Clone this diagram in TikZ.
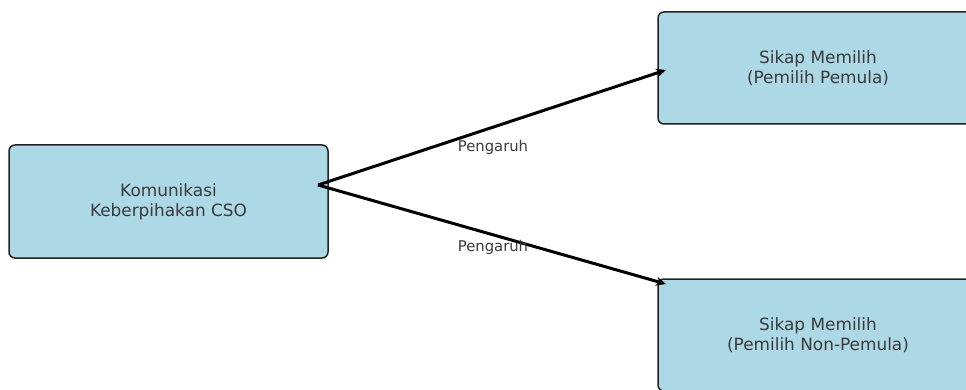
\documentclass[tikz,border=0pt]{standalone}
\usepackage{fontspec}
\setmainfont{DejaVu Sans}
\usetikzlibrary{arrows.meta}
\definecolor{boxfill}{HTML}{ADD8E6}
\definecolor{boxline}{HTML}{222222}
\definecolor{txt}{HTML}{3A3A3A}
\begin{document}
\begin{tikzpicture}[x=1pt,y=-1pt,
  boxst/.style={draw=boxline, line width=1.5pt, fill=boxfill, rounded corners=6pt,
    text=txt, align=center, inner sep=0pt, font=\fontsize{16.9}{20}\selectfont},
  arr/.style={line width=3pt, -{Stealth[length=10pt,width=9pt]}},
  lbl/.style={text=txt, font=\fontsize{14.8}{17}\selectfont, inner sep=0pt}]
\useasboundingbox (0,0) rectangle (966,390);
\node[boxst, minimum width=319pt, minimum height=113pt] (k) at (168.5,201.5) {Komunikasi\\Keberpihakan CSO};
\node[boxst, minimum width=320pt, minimum height=112pt] (t) at (818,68) {Sikap Memilih\\(Pemilih Pemula)};
\node[boxst, minimum width=320pt, minimum height=112pt] (b) at (818,335) {Sikap Memilih\\(Pemilih Non-Pemula)};
\coordinate (src) at (318,185);
\coordinate (ta) at (666,70);
\coordinate (ba) at (666,284);
\draw[arr] (src) -- (ta);
\draw[arr] (src) -- (ba);
\node[lbl] (l1) at (493,147) {Pengaruh};
\node[lbl] (l2) at (493,247) {Pengaruh};
\end{tikzpicture}
\end{document}
